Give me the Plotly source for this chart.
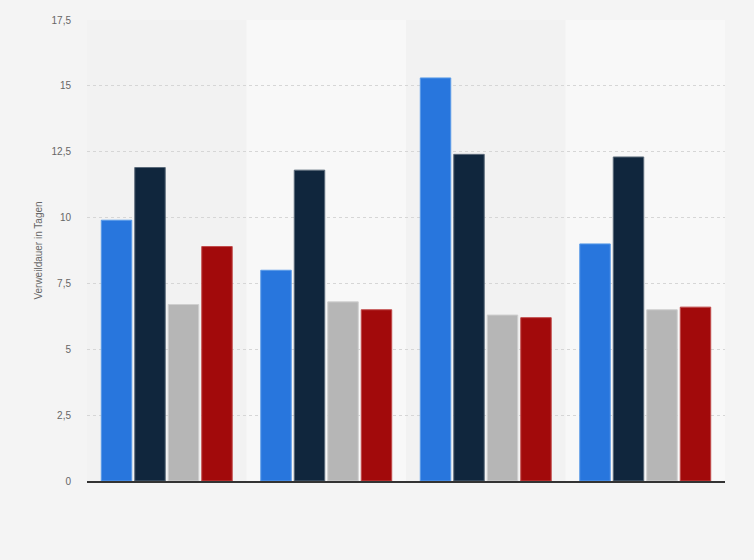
import plotly.graph_objects as go

# Verweildauer je Gruppe (keine Achsenbeschriftung im Original sichtbar)
categories = ["Gruppe 1", "Gruppe 2", "Gruppe 3", "Gruppe 4"]
series_names = ["Serie A", "Serie B", "Serie C", "Serie D"]
serie_a = [9.9, 8.0, 15.3, 9.0]
serie_b = [11.9, 11.8, 12.4, 12.3]
serie_c = [6.7, 6.8, 6.3, 6.5]
serie_d = [8.9, 6.5, 6.2, 6.6]
y_ticks = [0, 2.5, 5, 7.5, 10, 12.5, 15, 17.5]

colors = ["#2876dd", "#10263d", "#b6b6b6", "#a20a0b"]
borders = ["#5a9be8", "#5b6a7a", "#cfcfcf", "#c04a4a"]

fig = go.Figure()
for name, vals, col, bcol in zip(series_names, [serie_a, serie_b, serie_c, serie_d], colors, borders):
    fig.add_trace(go.Bar(
        x=categories, y=vals, name=name,
        marker=dict(color=col, line=dict(color=bcol, width=1)),
    ))

# alternating background bands
for i in range(len(categories)):
    fig.add_shape(
        type="rect", xref="x", yref="y",
        x0=i - 0.5, x1=i + 0.5, y0=0, y1=17.5,
        fillcolor="#f2f2f2" if i % 2 == 0 else "#f8f8f8",
        line=dict(width=0), layer="below",
    )

fig.update_layout(
    width=754, height=560,
    margin=dict(l=87, r=29, t=20, b=79),
    paper_bgcolor="#f4f4f4", plot_bgcolor="#f4f4f4",
    barmode="group", bargap=0.16, bargroupgap=0.09,
    showlegend=False,
    separators=",.",
    font=dict(family="Liberation Sans, Arial", size=10, color="#666666"),
    xaxis=dict(showticklabels=False, showgrid=False, zeroline=False,
               showline=True, linecolor="#333333", linewidth=1.5,
               range=[-0.5, 3.5]),
    yaxis=dict(
        range=[0, 17.5], tickvals=y_ticks, tickformat=",.1~f",
        showgrid=True, gridcolor="#d6d6d6", griddash="dot", gridwidth=1,
        zeroline=False, ticks="", ticklabelstandoff=15,
        title=dict(text="Verweildauer in Tagen", font=dict(size=10, color="#666666"), standoff=7),
    ),
)

fig.write_html("out.html", config={"displayModeBar": False},
               post_script="document.body.style.margin='0';")
